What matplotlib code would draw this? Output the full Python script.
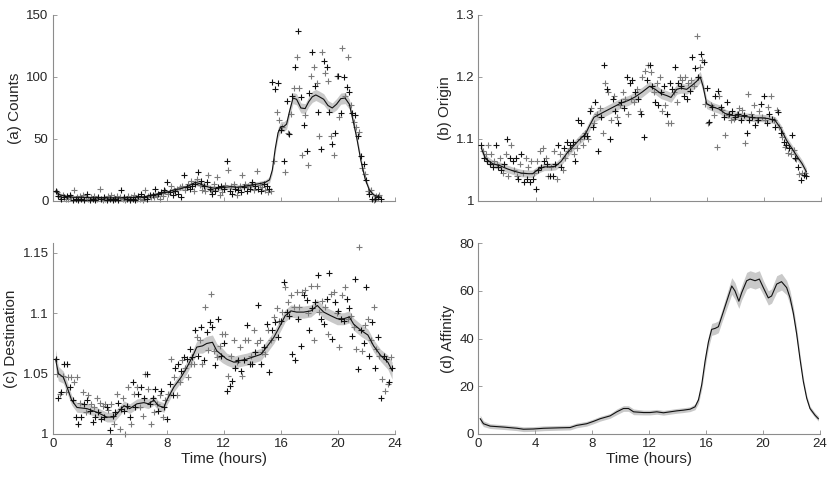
import numpy as np
import matplotlib
matplotlib.use('Agg')
import matplotlib.pyplot as plt
from matplotlib.ticker import FuncFormatter

plt.rcParams['font.family'] = ['Liberation Sans', 'DejaVu Sans']

# ---------------- data ----------------
# (a) Counts: observations every 0.1 h from 0.2 h to 23.0 h
a_obs_t = np.round(np.arange(0.2, 23.05, 0.1), 2)
a_obs = [8, 7, 4, 3, 2, 5, 3, 2,
         4, 2, 5, 3, 1, 9, 2, 3, 1, 4,
         2, 5, 1, 3, 6, 2, 1, 3, 2, 4,
         1, 2, 3, 10, 2, 1, 3, 2, 1, 4,
         2, 5, 1, 3, 2, 4, 1, 3, 9, 2,
         3, 1, 2, 4, 1, 3, 2, 5, 1, 2,
         4, 2, 6, 1, 3, 9, 2, 4, 5, 3,
         5, 3, 10, 4, 6, 2, 7, 4, 9, 8,
         15, 6, 7, 12, 5, 9, 8, 10, 6, 11,
         3, 12, 21, 9, 11, 14, 10, 16, 12, 8,
         14, 18, 23, 13, 16, 9, 12, 8, 15, 21,
         10, 9, 6, 14, 8, 19, 11, 5, 12, 7,
         10, 13, 32, 25, 8, 12, 6, 14, 10, 5,
         9, 12, 7, 21, 11, 14, 8, 12, 10, 13,
         15, 9, 12, 24, 10, 13, 8, 11, 14, 9,
         12, 7, 10, 8, 96, 32, 90, 72, 95, 65,
         57, 60, 32, 23, 81, 55, 54, 70, 85, 91,
         108, 116, 137, 91, 84, 37, 61, 69, 40, 29,
         87, 101, 120, 108, 93, 95, 72, 52, 42, 120,
         113, 103, 108, 97, 72, 52, 46, 37, 55, 101,
         101, 68, 71, 123, 100, 85, 92, 116, 88, 77,
         71, 64, 69, 60, 52, 56, 36, 27, 30, 22,
         17, 8, 6, 9, 2, 1, 2, 4, 3, 5,
         2]
a_fit_t = [0.2, 0.5, 1, 1.5, 2, 3, 4, 5, 6, 6.5, 7, 7.5, 8, 8.5, 9, 9.5, 10, 10.3, 10.7, 11,
           11.5, 12, 12.5, 13, 13.5, 14, 14.5, 14.9, 15.2, 15.4, 15.6, 15.8, 16.0, 16.2, 16.4,
           16.6, 16.85, 17.1, 17.4, 17.7, 17.95, 18.2, 18.45, 18.7, 19.0, 19.3, 19.6, 19.9,
           20.2, 20.5, 20.8, 21.0, 21.3, 21.6, 21.9, 22.2, 22.5, 22.8, 23.0]
a_fit = [8, 5, 3.5, 3, 3, 2.5, 2.5, 2.5, 3, 3.5, 5, 6, 7, 9, 10, 12, 15, 14, 12, 11,
         10, 11, 11.5, 11, 12, 13, 14, 15, 17, 25, 42, 55, 60, 60, 62,
         72, 83, 82, 75, 74.5, 80, 84, 85.5, 84, 82, 77, 75, 78,
         82.5, 83, 78, 68, 52, 33, 18, 9, 5, 3.5, 3]
a_ci = [2, 1.5, 1.5, 1.5, 1.5, 1.5, 1.5, 1.5, 1.5, 1.5, 1.5, 1.5, 1.5, 1.5, 1.5, 2, 2.5, 2.5, 2, 2,
        2, 2, 2, 2, 2, 2, 2, 2, 2.5, 3, 3.5, 4, 4, 4, 4,
        4, 4.5, 4.5, 4, 4, 4, 4.5, 4.5, 4.5, 4.5, 4, 4, 4.5,
        4.5, 4.5, 4, 3.5, 3.5, 3, 2.5, 2, 1.5, 1.5, 1.5]

# (b) Origin
b_obs_t = np.round(np.arange(0.2, 23.05, 0.1), 2)
b_obs = [1.090, 1.080, 1.070, 1.075, 1.065, 1.090, 1.060, 1.075,
         1.055, 1.065, 1.090, 1.060, 1.055, 1.070, 1.050, 1.045, 1.060, 1.075,
         1.100, 1.040, 1.070, 1.090, 1.065, 1.050, 1.070, 1.040, 1.035, 1.060,
         1.075, 1.045, 1.030, 1.070, 1.035, 1.055, 1.030, 1.065, 1.035, 1.045,
         1.020, 1.065, 1.050, 1.080, 1.055, 1.085, 1.065, 1.070, 1.060, 1.040,
         1.040, 1.055, 1.040, 1.080, 1.060, 1.035, 1.090, 1.075, 1.055, 1.050,
         1.085, 1.070, 1.095, 1.080, 1.090, 1.085, 1.095, 1.075, 1.065, 1.085,
         1.130, 1.100, 1.125, 1.090, 1.105, 1.110, 1.105, 1.100, 1.145, 1.150,
         1.120, 1.125, 1.160, 1.140, 1.080, 1.150, 1.135, 1.110, 1.220, 1.190,
         1.180, 1.175, 1.100, 1.130, 1.165, 1.170, 1.145, 1.135, 1.125, 1.155,
         1.160, 1.175, 1.150, 1.165, 1.200, 1.140, 1.190, 1.165, 1.195, 1.160,
         1.175, 1.180, 1.165, 1.145, 1.140, 1.200, 1.103, 1.210, 1.195, 1.220,
         1.220, 1.208, 1.185, 1.175, 1.160, 1.190, 1.155, 1.200, 1.175, 1.145,
         1.185, 1.155, 1.140, 1.125, 1.190, 1.126, 1.180, 1.175, 1.216, 1.160,
         1.190, 1.200, 1.185, 1.195, 1.170, 1.200, 1.165, 1.190, 1.178, 1.195,
         1.232, 1.186, 1.215, 1.266, 1.200, 1.216, 1.237, 1.228, 1.224, 1.157,
         1.182, 1.125, 1.127, 1.155, 1.152, 1.138, 1.170, 1.087, 1.178, 1.170,
         1.152, 1.146, 1.135, 1.106, 1.160, 1.138, 1.140, 1.130, 1.145, 1.133,
         1.135, 1.140, 1.141, 1.150, 1.130, 1.146, 1.138, 1.093, 1.109, 1.173,
         1.130, 1.140, 1.135, 1.155, 1.122, 1.130, 1.130, 1.145, 1.157, 1.135,
         1.170, 1.130, 1.125, 1.152, 1.140, 1.170, 1.133, 1.130, 1.120, 1.146,
         1.143, 1.120, 1.110, 1.103, 1.095, 1.087, 1.090, 1.077, 1.085, 1.075,
         1.106, 1.082, 1.070, 1.068, 1.055, 1.044, 1.034, 1.045, 1.042, 1.045,
         1.040]
b_fit_t = [0.2, 0.5, 1, 1.5, 2, 2.5, 3, 3.5, 3.8, 4.2, 4.6, 5.0, 5.4, 5.8, 6.2, 6.6, 7.0, 7.5,
           7.8, 8.1, 8.5, 9.0, 9.5, 10.0, 10.5, 11.0, 11.5, 12.0, 12.4, 12.8, 13.2, 13.5, 13.9,
           14.2, 14.6, 15.0, 15.3, 15.55, 15.75, 16.0, 16.4, 16.9, 17.3, 17.8, 18.3, 18.8, 19.3,
           19.8, 20.3, 20.8, 21.2, 21.6, 22.0, 22.4, 22.7, 23.0]
b_fit = [1.085, 1.068, 1.060, 1.057, 1.052, 1.048, 1.045, 1.044, 1.044, 1.051, 1.055, 1.055,
         1.056, 1.064, 1.077, 1.087, 1.097, 1.108, 1.122, 1.135, 1.140, 1.146, 1.152, 1.158,
         1.162, 1.168, 1.176, 1.185, 1.180, 1.173, 1.170, 1.167, 1.180, 1.182, 1.180, 1.187,
         1.193, 1.200, 1.185, 1.157, 1.152, 1.148, 1.141, 1.138, 1.137, 1.136, 1.134, 1.134,
         1.133, 1.130, 1.117, 1.098, 1.084, 1.070, 1.060, 1.047]
b_ci = [0.007, 0.006, 0.006, 0.006, 0.006, 0.006, 0.006, 0.006, 0.006, 0.006, 0.006, 0.006,
        0.006, 0.007, 0.007, 0.007, 0.007, 0.008, 0.008, 0.008, 0.008, 0.008, 0.008, 0.008,
        0.008, 0.008, 0.008, 0.008, 0.008, 0.008, 0.008, 0.008, 0.008, 0.008, 0.008, 0.008,
        0.009, 0.009, 0.009, 0.008, 0.007, 0.007, 0.007, 0.006, 0.006, 0.006, 0.006, 0.006,
        0.006, 0.006, 0.006, 0.006, 0.006, 0.006, 0.006, 0.006]

# (c) Destination: observations every 0.1 h from 0.2 h to 23.8 h
c_obs_t = np.round(np.arange(0.2, 23.85, 0.1), 2)
c_obs = [1.062, 1.050, 1.030, 1.033, 1.035, 1.048, 1.058, 1.035,
         1.058, 1.047, 1.039, 1.047, 1.028, 1.043, 1.014, 1.047, 1.008, 1.026,
         1.014, 1.035, 1.025, 1.018, 1.028, 1.032, 1.019, 1.025, 1.010, 1.022,
         1.014, 1.030, 1.018, 1.026, 1.0125, 1.0235, 1.014, 1.025, 1.022, 1.020,
         1.003, 1.025, 1.015, 1.008, 1.018, 1.033, 1.026, 1.004, 1.021, 1.030,
         1.019, 1.000, 1.0235, 1.039, 1.014, 1.008, 1.043, 1.033, 1.022, 1.039,
         1.033, 1.022, 1.039, 1.015, 1.030, 1.050, 1.050, 1.037, 1.025, 1.008,
         1.030, 1.018, 1.037, 1.025, 1.019, 1.032, 1.036, 1.014, 1.022, 1.028,
         1.0125, 1.033, 1.0415, 1.062, 1.032, 1.047, 1.055, 1.032, 1.058, 1.043,
         1.0525, 1.061, 1.064, 1.055, 1.062, 1.047, 1.0705, 1.058, 1.064, 1.058,
         1.086, 1.080, 1.065, 1.0775, 1.0885, 1.058, 1.061, 1.105, 1.0845, 1.070,
         1.0925, 1.116, 1.0885, 1.069, 1.057, 1.0635, 1.0955, 1.073, 1.065, 1.083,
         1.075, 1.083, 1.036, 1.048, 1.040, 1.065, 1.044, 1.0775, 1.055, 1.060,
         1.061, 1.072, 1.0525, 1.048, 1.061, 1.0775, 1.090, 1.0775, 1.058, 1.065,
         1.058, 1.086, 1.068, 1.075, 1.1065, 1.0775, 1.058, 1.068, 1.072, 1.066,
         1.0915, 1.086, 1.051, 1.0775, 1.086, 1.097, 1.0925, 1.104, 1.080, 1.094,
         1.094, 1.101, 1.126, 1.122, 1.101, 1.109, 1.098, 1.115, 1.066, 1.105,
         1.061, 1.1175, 1.0955, 1.105, 1.073, 1.1175, 1.115, 1.119, 1.111, 1.100,
         1.086, 1.123, 1.104, 1.0775, 1.109, 1.123, 1.1315, 1.101, 1.095, 1.110,
         1.0915, 1.105, 1.112, 1.083, 1.133, 1.116, 1.079, 1.1175, 1.109, 1.100,
         1.102, 1.072, 1.0955, 1.115, 1.094, 1.122, 1.112, 1.0955, 1.104, 1.098,
         1.0815, 1.0885, 1.1285, 1.0705, 1.054, 1.155, 1.086, 1.069, 1.075, 1.090,
         1.122, 1.0955, 1.065, 1.0775, 1.0925, 1.105, 1.055, 1.0705, 1.080, 1.065,
         1.030, 1.0455, 1.065, 1.036, 1.062, 1.0415, 1.043, 1.0635, 1.055]
c_fit_t = [0.2, 0.4, 0.75, 1.0, 1.33, 1.7, 2.4, 3.1, 3.8, 4.3, 4.6, 5.0, 5.4, 5.9, 6.4, 6.7, 7.1,
           7.4, 7.8, 8.0, 8.5, 9.0, 9.4, 9.8, 10.1, 10.5, 10.8, 11.2, 11.5, 11.9, 12.2, 12.7,
           13.2, 13.6, 14.1, 14.6, 15.0, 15.5, 16.0, 16.3, 16.7, 17.1, 17.6, 18.1, 18.55, 19.0,
           19.5, 19.95, 20.4, 20.8, 21.1, 21.6, 22.1, 22.5, 23.0, 23.5, 23.8]
c_fit = [1.062, 1.050, 1.047, 1.039, 1.028, 1.022, 1.021, 1.018, 1.014, 1.014, 1.018, 1.0235,
         1.021, 1.025, 1.026, 1.025, 1.028, 1.0235, 1.022, 1.028, 1.039, 1.047, 1.055, 1.064,
         1.072, 1.073, 1.075, 1.076, 1.069, 1.065, 1.062, 1.0595, 1.061, 1.062, 1.064, 1.066,
         1.072, 1.080, 1.091, 1.098, 1.102, 1.101, 1.101, 1.102, 1.1065, 1.101, 1.098, 1.0955,
         1.0955, 1.097, 1.091, 1.086, 1.082, 1.073, 1.065, 1.0595, 1.0525]
c_ci = [0.008, 0.006, 0.005, 0.005, 0.004, 0.004, 0.004, 0.004, 0.004, 0.004, 0.004, 0.004,
        0.004, 0.004, 0.004, 0.004, 0.004, 0.004, 0.004, 0.004, 0.004, 0.004, 0.005, 0.005,
        0.005, 0.006, 0.006, 0.006, 0.006, 0.006, 0.005, 0.005, 0.005, 0.005, 0.005, 0.005,
        0.005, 0.005, 0.005, 0.005, 0.005, 0.005, 0.005, 0.005, 0.005, 0.005, 0.005, 0.005,
        0.005, 0.005, 0.005, 0.005, 0.005, 0.005, 0.005, 0.006, 0.007]

# (d) Affinity (fit only)
d_fit_t = [0.12, 0.35, 0.82, 1.76, 2.7, 3.16, 3.86, 4.57, 5.74, 6.44, 6.9, 7.6, 8.08, 8.55, 9.25,
           9.72, 10.19, 10.54, 10.9, 11.6, 12.06, 12.53, 13.0, 13.47, 13.93, 14.4, 14.87, 15.22,
           15.46, 15.69, 15.93, 16.16, 16.39, 16.63, 16.86, 17.1, 17.45, 17.8, 18.03, 18.3, 18.5,
           18.85, 19.09, 19.44, 19.74, 20.02, 20.37, 20.6, 20.96, 21.3, 21.66, 21.9, 22.13,
           22.36, 22.6, 22.83, 23.07, 23.3, 23.65, 23.89]
d_fit = [6.4, 4.3, 3.3, 2.9, 2.4, 2.0, 2.1, 2.4, 2.6, 2.7, 3.6, 4.3, 5.3, 6.4, 7.6, 9.3, 10.7,
         10.7, 9.3, 9.0, 9.0, 9.3, 8.9, 9.3, 9.7, 10.0, 10.4, 11.4, 14.3, 20.7, 30.7, 38.6, 43.9,
         44.3, 45.0, 49.3, 55.7, 62.1, 60.0, 55.7, 59.3, 64.3, 65.0, 64.3, 65.0, 61.4, 57.1, 57.9,
         62.9, 63.9, 61.4, 57.1, 50.7, 42.1, 31.4, 22.1, 15.0, 10.7, 7.9, 6.4]
d_ci = [1.5, 1.2, 1.0, 1.0, 1.0, 1.0, 1.0, 1.0, 1.0, 1.0, 1.0, 1.0, 1.0, 1.0, 1.0, 1.2, 1.2, 1.2,
        1.2, 1.0, 1.0, 1.0, 1.0, 1.0, 1.0, 1.0, 1.0, 1.2, 1.5, 2.0, 2.5, 2.5, 2.5, 2.5, 2.5, 2.5,
        3.0, 3.5, 3.5, 3.0, 3.0, 3.5, 3.5, 3.5, 3.5, 3.0, 3.0, 3.0, 3.5, 3.5, 3.0, 3.0, 2.5, 2.5,
        2.0, 1.5, 1.2, 1.0, 1.0, 1.0]

x_ticks = [0, 4, 8, 12, 16, 20, 24]
labels = ['(a) Counts', '(b) Origin', '(c) Destination', '(d) Affinity']
xlabel = 'Time (hours)'

# ---------------- plotting ----------------
SPINE = '#8c8c8c'
TXT = '#262626'
BAND = '#c9c9c9'

fig = plt.figure(figsize=(8.3, 4.82), dpi=100)
ax_a = fig.add_axes([0.0635, 0.583, 0.4124, 0.386])
ax_b = fig.add_axes([0.5765, 0.583, 0.4123, 0.386])
ax_c = fig.add_axes([0.0635, 0.0996, 0.4124, 0.3956])
ax_d = fig.add_axes([0.5765, 0.0996, 0.4114, 0.3956])

fmt = FuncFormatter(lambda v, p: f'{v:g}')


def style(ax, ylabel, yticks, ylim, xlim, show_x):
    for s in ('top', 'right'):
        ax.spines[s].set_visible(False)
    for s in ('left', 'bottom'):
        ax.spines[s].set_color(SPINE)
        ax.spines[s].set_linewidth(0.8)
    ax.set_xlim(*xlim)
    ax.set_ylim(*ylim)
    ax.set_xticks(x_ticks)
    ax.set_yticks(yticks)
    ax.yaxis.set_major_formatter(fmt)
    ax.tick_params(direction='in', length=3, width=0.6, color=SPINE,
                   labelcolor=TXT, labelsize=9.5, pad=3)
    if not show_x:
        ax.tick_params(axis='x', labelbottom=False)
    else:
        ax.set_xlabel(xlabel, fontsize=11, color=TXT, labelpad=1)
    ax.set_ylabel(ylabel, fontsize=11, color=TXT, labelpad=3)


def draw(ax, ot, ov, ft, fv, ci):
    ft = np.asarray(ft)
    fv = np.asarray(fv)
    ci = np.asarray(ci)
    ax.fill_between(ft, fv - ci, fv + ci, color=BAND, lw=0, zorder=1)
    if ot is not None:
        ot = np.asarray(ot)
        ov = np.asarray(ov)
        ax.plot(ot[1::2], ov[1::2], '+', color='#7a7a7a', ms=4.5, mew=0.8, zorder=2,
                clip_on=False)
        ax.plot(ot[::2], ov[::2], '+', color='#111111', ms=4.5, mew=0.8, zorder=3,
                clip_on=False)
    ax.plot(ft, fv, color='#111111', lw=0.8, zorder=4)


draw(ax_a, a_obs_t, a_obs, a_fit_t, a_fit, a_ci)
style(ax_a, labels[0], [0, 50, 100, 150], (0, 150), (0, 23.1), False)

draw(ax_b, b_obs_t, b_obs, b_fit_t, b_fit, b_ci)
style(ax_b, labels[1], [1.0, 1.1, 1.2, 1.3], (1.0, 1.3), (0, 23.06), False)

draw(ax_c, c_obs_t, c_obs, c_fit_t, c_fit, c_ci)
style(ax_c, labels[2], [1.0, 1.05, 1.1, 1.15], (1.0, 1.158), (0, 24), True)

draw(ax_d, None, None, d_fit_t, d_fit, d_ci)
style(ax_d, labels[3], [0, 20, 40, 60, 80], (0, 80), (0, 24), True)

fig.savefig('out.png', dpi=100)
